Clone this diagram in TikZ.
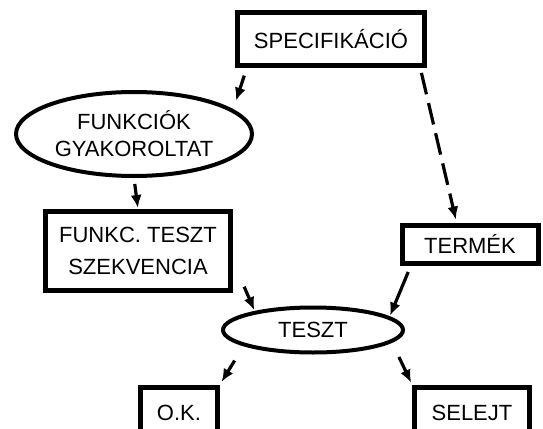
\documentclass[tikz,border=0pt]{standalone}
\usepackage{fontspec}
\setmainfont{Liberation Sans}
\usetikzlibrary{arrows.meta, shapes.geometric}

\tikzset{
  stagebox/.style={draw, line width=5pt, inner sep=0pt, align=center,
    font=\fontsize{22}{32}\selectfont},
  stageoval/.style={draw, ellipse, line width=4pt, inner sep=0pt,
    align=center, font=\fontsize{22}{27}\selectfont},
  flow/.style={-{Latex[length=13pt,width=11pt]}, line width=3.2pt},
  dashflow/.style={flow, dash pattern=on 22pt off 9pt}
}

\begin{document}
\begin{tikzpicture}[x=1pt, y=-1pt]
  \useasboundingbox (0,0) rectangle (543,428);
  \clip (0,0) rectangle (543,428);

  % Stages
  \node[stagebox, minimum width=187, minimum height=53] (spec) at (331,39)
    {SPECIFIKÁCIÓ};
  \node[stageoval, minimum width=236, minimum height=84] (func) at (134,134)
    {FUNKCIÓK\\GYAKOROLTAT};
  \node[stagebox, minimum width=185, minimum height=79] (seq) at (138,251)
    {FUNKC. TESZT\\SZEKVENCIA};
  \node[stagebox, minimum width=136, minimum height=38] (product) at (470,244)
    {TERMÉK};
  \node[stageoval, minimum width=180, minimum height=45] (test) at (313,330)
    {TESZT};
  \node[stagebox, minimum width=77, minimum height=52] (ok) at (179,413)
    {O.K.};
  \node[stagebox, minimum width=115, minimum height=52] (reject) at (472,413)
    {SELEJT};

  % Flow
  \draw[flow, shorten <=8pt, shorten >=9pt] (spec.-161) -- (func.14.5);
  \draw[dashflow, shorten <=5pt, shorten >=3pt] (spec.-18.4) -- (product.122);
  \draw[flow, shorten <=6pt, shorten >=1pt] (func.-90) -- (seq.90);
  \draw[flow, shorten <=28pt, shorten >=1pt] (seq.-6) -- (test.162);
  \draw[flow, shorten <=7pt, shorten >=1pt] (product.200) -- (test.10);
  \draw[flow, shorten <=17pt, shorten >=3pt] (test.193) -- (ok.north east);
  \draw[flow, shorten <=16pt, shorten >=2pt] (test.-9) -- (reject.north west);
\end{tikzpicture}
\end{document}
